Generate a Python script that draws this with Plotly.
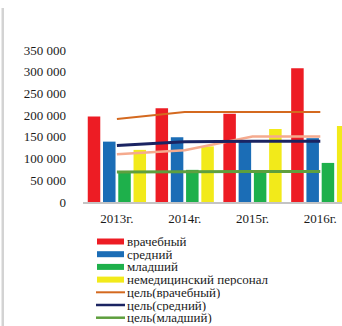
import plotly.graph_objects as go

categories = ["2013г.", "2014г.", "2015г.", "2016г."]

bar_names = ["врачебный", "средний", "младший", "немедицинский персонал"]
vrach = [197000, 216000, 203000, 308000]
sredn = [139000, 149000, 139000, 147000]
mladsh = [69000, 74000, 70000, 90000]
nemed = [120000, 128000, 168000, 175000]

line_names = ["цель(врачебный)", "цель(средний)", "цель(младший)",
              "цель(немедицинский персонал)"]
goal_vrach = [191000, 207000, 207000, 207000]
goal_sredn = [130000, 139000, 140000, 140000]
goal_mladsh = [69000, 70000, 70000, 70000]
goal_nemed = [110000, 119000, 151000, 151000]

y_tick_vals = [0, 50000, 100000, 150000, 200000, 250000, 300000, 350000]
y_tick_text = ["0", "50 000", "100 000", "150 000", "200 000", "250 000",
               "300 000", "350 000"]

bar_colors = ["#ED1C24", "#1B6DB6", "#1EB04B", "#F2EA1A"]
line_colors = ["#D4691F", "#1B2462", "#5E9F3E", "#F5AA8E"]
line_widths = [2, 3, 3, 2.5]

FONT = "'Liberation Serif', 'Times New Roman', 'DejaVu Serif', serif"
W, H = 342, 326
ML, MR, MT, MB = 83, 0, 50, 124
PW, PH = W - ML - MR, H - MT - MB


def px_x(px):
    return (px - ML) / PW


def px_y(py):
    return (H - MB - py) / PH


fig = go.Figure()
bar_series = [vrach, sredn, mladsh, nemed]
for name, vals, col in zip(bar_names, bar_series, bar_colors):
    fig.add_trace(go.Bar(x=categories, y=vals, name=name, marker_color=col,
                         marker_line_width=0, showlegend=False))

line_series = [goal_vrach, goal_sredn, goal_mladsh, goal_nemed]
draw_order = [3, 0, 1, 2]
for i in draw_order:
    fig.add_trace(go.Scatter(x=categories, y=line_series[i], name=line_names[i],
                             mode="lines",
                             line=dict(color=line_colors[i], width=line_widths[i]),
                             showlegend=False))

shapes = []
annotations = []
# left grey frame edge
shapes.append(dict(type="rect", xref="paper", yref="paper",
                   x0=px_x(1.5), x1=px_x(4), y0=px_y(326), y1=px_y(8),
                   fillcolor="#d3d3d3", line=dict(width=0), layer="above"))

# manual legend
legend_entries = []
for n, c in zip(bar_names, bar_colors):
    legend_entries.append(("bar", n, c, 6))
for n, c, w in zip(line_names[:3], line_colors[:3], line_widths[:3]):
    legend_entries.append(("line", n, c, w))

y0 = 241.5
step = 12.7
for i, (kind, name, col, w) in enumerate(legend_entries):
    yc = y0 + step * i
    if kind == "bar":
        shapes.append(dict(type="rect", xref="paper", yref="paper",
                           x0=px_x(97), x1=px_x(124), y0=px_y(yc + 3), y1=px_y(yc - 3),
                           fillcolor=col, line=dict(width=0)))
    else:
        shapes.append(dict(type="line", xref="paper", yref="paper",
                           x0=px_x(96), x1=px_x(125), y0=px_y(yc), y1=px_y(yc),
                           line=dict(color=col, width=min(w, 2.5))))
    annotations.append(dict(text=name, xref="paper", yref="paper",
                            x=px_x(127), y=px_y(yc), xanchor="left", yanchor="middle",
                            borderpad=0, borderwidth=0, height=12.5, valign="middle",
                            showarrow=False, font=dict(family=FONT, size=13, color="#1a1a1a")))

fig.update_layout(
    width=W, height=H,
    margin=dict(l=ML, r=MR, t=MT, b=MB, pad=0),
    paper_bgcolor="white", plot_bgcolor="white",
    barmode="group", bargap=0.1, bargroupgap=0.18,
    font=dict(family=FONT, size=13, color="#1a1a1a"),
    showlegend=False,
    shapes=shapes, annotations=annotations,
    xaxis=dict(type="category", range=[-0.5, 3.32], showgrid=False,
               showline=True, linecolor="#c4c4c4", linewidth=1.5,
               ticks="", ticklabelstandoff=4, zeroline=False,
               tickfont=dict(family=FONT, size=13, color="#1a1a1a")),
    yaxis=dict(range=[0, 350000], tickvals=y_tick_vals, ticktext=y_tick_text,
               showgrid=False, zeroline=False, showline=False, ticks="",
               ticklabelstandoff=16,
               tickfont=dict(family=FONT, size=13, color="#1a1a1a")),
)

fig.write_html("out.html")
